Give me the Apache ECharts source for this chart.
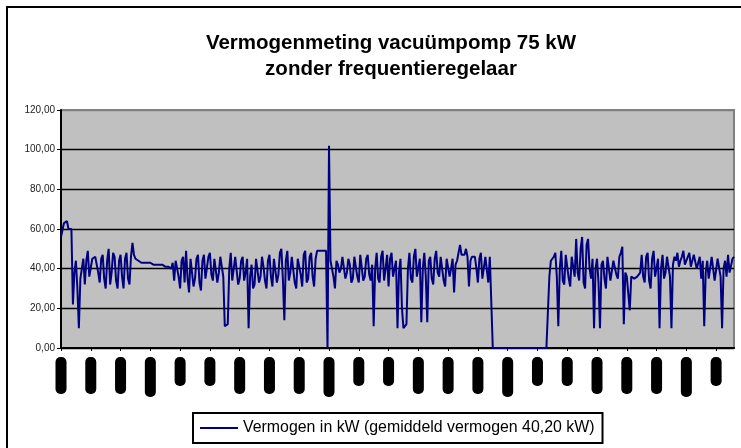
<!DOCTYPE html>
<html>
<head>
<meta charset="utf-8">
<script src="https://cdn.jsdelivr.net/npm/echarts@6/dist/echarts.min.js"></script>
<style>
  html, body { margin: 0; padding: 0; background: #fff; }
  #chart { width: 741px; height: 448px; }
</style>
</head>
<body>
<div id="chart"></div>
<script>
// vermogen in kW, one value per sample (20 samples per x label)
var vermogen = [
  56, 57, 63, 64, 64, 60, 59, 60, 22, 38, 44, 30, 10, 35, 40, 45, 32, 44, 49, 36,
  37, 45, 46, 46, 46, 38, 33, 45, 47, 35, 30, 44, 50, 32, 38, 48, 46, 34, 30, 44,
  47, 36, 30, 45, 48, 35, 32, 46, 53, 47, 45, 44, 44, 43, 43, 43, 43, 43, 43, 43,
  43, 42, 42, 42, 42, 42, 42, 42, 42, 41, 41, 41, 41, 40, 40, 43, 34, 44, 45, 36,
  30, 44, 46, 33, 49, 35, 28, 45, 46, 31, 35, 45, 47, 33, 29, 44, 47, 35, 36, 46,
  48, 37, 34, 45, 46, 33, 38, 46, 47, 36, 11, 12, 12, 40, 48, 34, 33, 46, 47, 32,
  35, 44, 46, 34, 38, 45, 10, 36, 42, 30, 32, 45, 44, 33, 36, 46, 41, 34, 30, 44,
  47, 36, 31, 45, 46, 33, 37, 48, 50, 35, 14, 44, 49, 34, 38, 46, 47, 33, 30, 45,
  45, 37, 31, 47, 49, 33, 35, 46, 48, 36, 31, 45, 49, 49, 49, 49, 49, 48, 49, 0,
  102, 44, 45, 36, 30, 44, 42, 38, 40, 46, 47, 35, 38, 45, 42, 33, 35, 46, 47, 36,
  33, 47, 46, 34, 36, 45, 47, 37, 34, 42, 11, 40, 48, 35, 33, 46, 49, 34, 40, 47,
  31, 45, 48, 36, 35, 44, 10, 38, 45, 20, 10, 11, 12, 40, 48, 35, 33, 46, 50, 36,
  37, 45, 13, 40, 48, 36, 13, 44, 46, 35, 32, 45, 49, 38, 36, 46, 47, 34, 31, 45,
  44, 36, 40, 45, 28, 42, 44, 48, 52, 47, 47, 47, 50, 46, 31, 44, 46, 46, 46, 40,
  33, 45, 48, 35, 34, 46, 47, 33, 46, 46, 0, 0, 0, 0, 0, 0, 0, 0, 0, 0,
  0, 0, 0, 0, 0, 0, 0, 0, 0, 0, 0, 0, 0, 0, 0, 0, 0, 0, 0, 0,
  0, 0, 0, 0, 0, 0, 0, 0, 36, 44, 44, 46, 48, 36, 11, 40, 49, 34, 32, 47,
  48, 35, 31, 46, 47, 36, 55, 38, 34, 50, 56, 33, 30, 52, 55, 40, 35, 45, 10, 40,
  45, 33, 10, 42, 44, 35, 30, 46, 45, 34, 33, 44, 44, 37, 35, 46, 48, 51, 12, 38,
  36, 35, 19, 36, 36, 35, 35, 36, 36, 38, 47, 36, 33, 46, 48, 34, 30, 45, 49, 36,
  35, 45, 10, 40, 47, 35, 38, 46, 45, 36, 10, 42, 46, 44, 48, 41, 44, 46, 49, 42,
  41, 46, 48, 41, 42, 47, 46, 40, 43, 46, 35, 44, 11, 38, 44, 35, 36, 46, 45, 34,
  34, 45, 46, 36, 10, 40, 44, 36, 47, 38, 37, 45, 46
];

// x tick labels (one every 20 samples)
var tijdLabels = [
  '8:00', '8:30', '9:00', '9:30', '10:00', '10:30', '11:00', '11:30',
  '12:00', '12:30', '13:00', '13:30', '14:00', '14:30', '15:00', '15:30',
  '16:00', '16:30', '17:00', '17:30', '18:00', '18:30', '19:00'
];

var yTicks = [0, 20, 40, 60, 80, 100, 120];

var samples = vermogen.map(function (v, i) { return String(i); });

var chart = echarts.init(document.getElementById('chart'));

var option = {
  animation: false,
  backgroundColor: '#fff',
  title: {
    text: 'Vermogenmeting vacuümpomp 75 kW\nzonder frequentieregelaar',
    left: 386,
    top: 25,
    textAlign: 'center',
    textStyle: {
      fontFamily: 'Liberation Sans',
      fontSize: 20.5,
      fontWeight: 'bold',
      color: '#000',
      lineHeight: 26
    }
  },
  graphic: [{
    type: 'rect',
    shape: { x: 7, y: 7, width: 800, height: 500 },
    style: { fill: null, stroke: '#000', lineWidth: 2 },
    silent: true
  }],
  legend: {
    left: 193,
    top: 413,
    padding: [7, 8, 7, 7],
    borderColor: '#000',
    borderWidth: 2,
    icon: 'rect',
    itemWidth: 38,
    itemHeight: 2,
    itemGap: 5,
    textStyle: { fontFamily: 'Liberation Sans', fontSize: 15.9, color: '#000' },
    data: ['Vermogen in kW (gemiddeld vermogen 40,20 kW)']
  },
  grid: {
    left: 61,
    top: 110,
    right: 7,
    bottom: 100,
    show: true,
    backgroundColor: '#C0C0C0',
    borderColor: '#808080',
    borderWidth: 2,
    containLabel: false,
    outerBoundsMode: 'none'
  },
  xAxis: {
    type: 'category',
    boundaryGap: false,
    data: samples,
    axisLine: { lineStyle: { color: '#000', width: 2 } },
    axisTick: { show: true, interval: 19, length: 3, lineStyle: { color: '#000' } },
    splitLine: { show: false },
    axisLabel: {
      interval: 19,
      rotate: 90,
      margin: 9,
      formatter: function (val, idx) {
        var k = Math.round(idx / 20);
        var t = tijdLabels[k] || '';
        var m = k % 6;
        var st = (m === 3) ? 'xl' : (m === 4 || m === 5) ? 's' : 'l';
        return '{' + st + '|' + t + '}';
      },
      rich: {
        s: { width: 29, height: 11, backgroundColor: '#000', color: '#000', borderRadius: 5, fontSize: 8, align: 'center' },
        l: { width: 37, height: 11, backgroundColor: '#000', color: '#000', borderRadius: 5, fontSize: 8, align: 'center' },
        xl: { width: 40, height: 11, backgroundColor: '#000', color: '#000', borderRadius: 5, fontSize: 8, align: 'center' }
      }
    }
  },
  yAxis: {
    type: 'value',
    min: yTicks[0],
    max: yTicks[yTicks.length - 1],
    interval: 20,
    axisLine: { show: true, lineStyle: { color: '#000', width: 2 } },
    axisTick: { show: true, length: 4, lineStyle: { color: '#000' } },
    splitLine: {
      show: true,
      lineStyle: { color: ['#000', '#000', '#000', '#000', '#000', '#000', '#808080'], width: 1.3 }
    },
    axisLabel: {
      margin: 6,
      fontFamily: 'Liberation Sans',
      fontSize: 10,
      color: '#222',
      formatter: function (v) { return v.toFixed(2).replace('.', ','); }
    }
  },
  series: [{
    name: 'Vermogen in kW (gemiddeld vermogen 40,20 kW)',
    type: 'line',
    data: vermogen,
    showSymbol: false,
    symbol: 'none',
    lineStyle: { color: '#000080', width: 2 },
    itemStyle: { color: '#000080' }
  }]
};

chart.setOption(option);
window.onresize = chart.resize;
</script>
</body>
</html>
